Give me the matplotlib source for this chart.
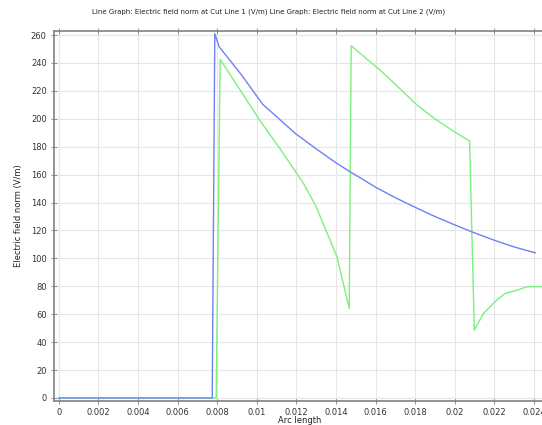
import numpy as np
import matplotlib
matplotlib.use('Agg')
import matplotlib.pyplot as plt
from matplotlib.ticker import FuncFormatter, MultipleLocator

# Cut Line 1 (blue)
x_line1 = [0.0, 0.00775, 0.00788, 0.0081, 0.0092, 0.0103, 0.0112, 0.01194, 0.0130, 0.0140,
           0.01472, 0.01522, 0.0160, 0.0170, 0.0180, 0.0190, 0.0200, 0.02087, 0.0220, 0.0230, 0.02407]
e_line1 = [0.0, 0.0, 261.0, 251.6, 232.0, 210.4, 199.0, 189.6, 178.5, 168.5,
           162.0, 157.8, 151.0, 143.5, 136.6, 130.0, 124.0, 119.0, 113.0, 108.2, 104.0]

# Cut Line 2 (green)
x_line2 = [0.0, 0.00795, 0.00815, 0.0091, 0.01008, 0.0112, 0.01236, 0.0130, 0.01405, 0.01467,
           0.01477, 0.0155, 0.01623, 0.0172, 0.01809, 0.0190, 0.0200, 0.02075, 0.02099,
           0.02146, 0.02213, 0.02255, 0.0231, 0.02365, 0.0246]
e_line2 = [0.0, 0.0, 242.6, 222.0, 200.4, 178.0, 153.8, 137.0, 101.2, 64.2,
           252.4, 243.5, 235.0, 222.0, 209.9, 200.0, 190.5, 184.1, 48.7,
           60.7, 70.2, 75.0, 77.0, 79.7, 79.7]

title = ('Line Graph: Electric field norm at Cut Line 1 (V/m) '
         'Line Graph: Electric field norm at Cut Line 2 (V/m)')

fig = plt.figure(figsize=(5.42, 4.25), dpi=100)
ax = fig.add_axes([0.099, 0.0565, 0.908, 0.8705])

ax.plot(x_line2, e_line2, color='#7cf07c', lw=1.0)
ax.plot(x_line1, e_line1, color='#6f80f4', lw=1.0)

ax.set_xlim(-0.00026, 0.0246)
ax.set_ylim(-2.15, 262.9)
ax.xaxis.set_major_locator(MultipleLocator(0.002))
ax.yaxis.set_major_locator(MultipleLocator(20))
ax.xaxis.set_major_formatter(FuncFormatter(lambda v, p: '{:g}'.format(round(v, 6))))

ax.grid(True, color='#e6e6e6', lw=0.8)
ax.set_axisbelow(True)
for s in ax.spines.values():
    s.set_color('#808080')
    s.set_linewidth(1.2)
ax.tick_params(axis='both', which='both', direction='inout', length=4, width=0.6,
               color='#808080', labelsize=6, labelcolor='#333333', pad=3,
               top=True, right=True)

ax.set_xlabel('Arc length', fontsize=6, color='#222222', labelpad=-0.5)
ax.set_ylabel('Electric field norm (V/m)', fontsize=6, color='#222222', labelpad=6)
fig.text(0.496, 0.972, title, fontsize=5.0, color='#222222', ha='center', va='center')

fig.savefig('out.png', dpi=100)
